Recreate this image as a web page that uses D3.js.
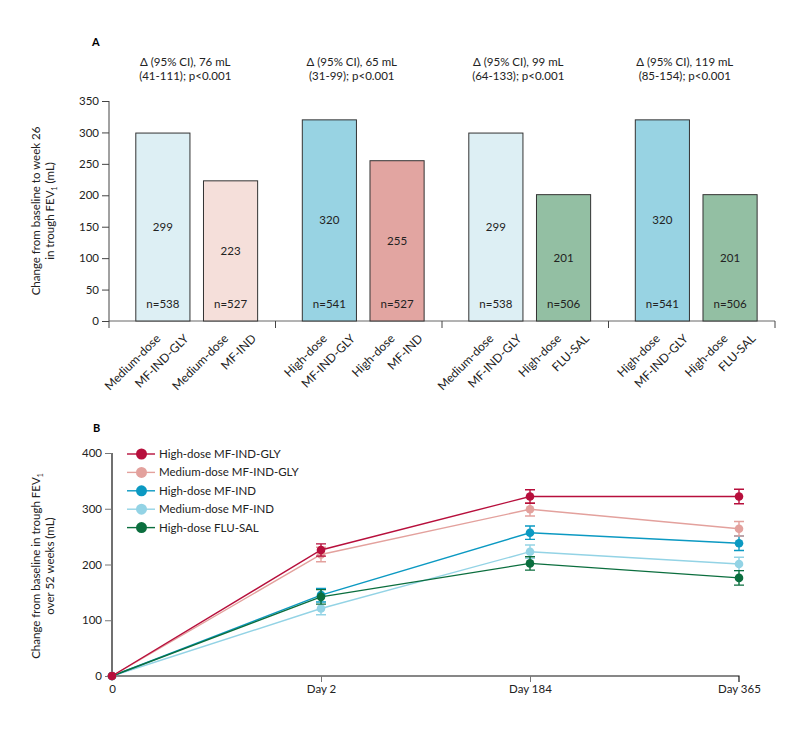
<!DOCTYPE html>
<html>
<head>
<meta charset="utf-8">
<script src="https://cdn.jsdelivr.net/npm/d3@7"></script>
<style>
  body { margin: 0; background: #fff; }
  svg { font-family: Lato, "Liberation Sans", sans-serif; }
</style>
</head>
<body>
<svg id="chart" width="800" height="729"></svg>
<script>
// ---- Panel A data ----
const groupNotes = [
  ['Δ (95% CI), 76 mL', '(41-111); p<0.001'],
  ['Δ (95% CI), 65 mL', '(31-99); p<0.001'],
  ['Δ (95% CI), 99 mL', '(64-133); p<0.001'],
  ['Δ (95% CI), 119 mL', '(85-154); p<0.001']
];
const barDose = ['Medium-dose', 'Medium-dose', 'High-dose', 'High-dose', 'Medium-dose', 'High-dose', 'High-dose', 'High-dose'];
const barDrug = ['MF-IND-GLY', 'MF-IND', 'MF-IND-GLY', 'MF-IND', 'MF-IND-GLY', 'FLU-SAL', 'MF-IND-GLY', 'FLU-SAL'];
const barValues = [299, 223, 320, 255, 299, 201, 320, 201];
const barN = [538, 527, 541, 527, 538, 506, 541, 506];
const yTicksA = [0, 50, 100, 150, 200, 250, 300, 350];

// ---- Panel B data ----
const timepoints = ['0', 'Day 2', 'Day 184', 'Day 365'];
const seriesNames = ['High-dose MF-IND-GLY', 'Medium-dose MF-IND-GLY', 'High-dose MF-IND', 'Medium-dose MF-IND', 'High-dose FLU-SAL'];
const hiGly = [0, 226, 322, 322];
const medGly = [0, 218, 299, 264];
const hiInd = [0, 145, 257, 238];
const medInd = [0, 121, 223, 201];
const fluSal = [0, 142, 202, 176];
const hiGlyErr = [0, 11, 12, 13];
const medGlyErr = [0, 13, 12, 13];
const hiIndErr = [0, 12, 12, 13];
const medIndErr = [0, 11, 12, 12];
const fluSalErr = [0, 13, 12, 13];
const yTicksB = [0, 100, 200, 300, 400];

const barColor = {
  'Medium-dose MF-IND-GLY': '#ddeff4',
  'Medium-dose MF-IND': '#f5dfda',
  'High-dose MF-IND-GLY': '#98d3e3',
  'High-dose MF-IND': '#e2a5a1',
  'High-dose FLU-SAL': '#93bfa3'
};
const lineColor = ['#b70f3c', '#e3a19d', '#0b99c2', '#93d3e5', '#0b6e3e'];
const fs = 11.5;

const svg = d3.select('#chart');

// ================= Panel A =================
const gA = svg.append('g');
const yA = d3.scaleLinear().domain([0, 350]).range([321, 101]);
const groupX = d3.scaleBand().domain(d3.range(4)).range([109, 775]);
const inner = d3.scaleBand().domain([0, 1]).range([0, groupX.bandwidth()])
  .paddingInner(0.2).paddingOuter(0.33).align(0.6);
const barX = i => groupX(Math.floor(i / 2)) + inner(i % 2);

gA.append('text').attr('x', 92).attr('y', 46).attr('font-weight', 'bold')
  .attr('font-size', 11).text('A');

// y axis
const axA = gA.append('g').attr('transform', 'translate(109,0)')
  .call(d3.axisLeft(yA).tickValues(yTicksA).tickSize(7).tickPadding(3));
axA.select('.domain').attr('stroke', '#444').attr('d', 'M0,101V321');
axA.selectAll('.tick line').attr('stroke', '#444');
axA.selectAll('.tick text').attr('font-size', fs).attr('fill', '#222').attr('font-family', 'Lato');

// x axis baseline with group separators
gA.append('line').attr('x1', 109).attr('x2', 775).attr('y1', 321).attr('y2', 321).attr('stroke', '#666');
gA.selectAll('.sep').data(d3.range(5)).join('line')
  .attr('x1', d => 109 + d * groupX.bandwidth()).attr('x2', d => 109 + d * groupX.bandwidth())
  .attr('y1', 321).attr('y2', 328).attr('stroke', '#444');

// bars
gA.selectAll('.bar').data(barValues).join('rect')
  .attr('x', (d, i) => barX(i)).attr('width', inner.bandwidth())
  .attr('y', d => yA(d)).attr('height', d => yA(0) - yA(d))
  .attr('fill', (d, i) => barColor[barDose[i] + ' ' + barDrug[i]])
  .attr('stroke', '#333').attr('stroke-width', 1);

gA.selectAll('.val').data(barValues).join('text')
  .attr('x', (d, i) => barX(i) + inner.bandwidth() / 2)
  .attr('y', d => (yA(d) + yA(0)) / 2 + 4)
  .attr('text-anchor', 'middle').attr('font-size', fs).attr('fill', '#222')
  .text(d => d);

gA.selectAll('.n').data(barN).join('text')
  .attr('x', (d, i) => barX(i) + inner.bandwidth() / 2)
  .attr('y', 308)
  .attr('text-anchor', 'middle').attr('font-size', fs).attr('fill', '#222')
  .text(d => 'n=' + d);

// rotated category labels
const labelG = gA.append('g');
barDose.forEach((d, i) => {
  const cx = barX(i) + inner.bandwidth() / 2;
  [[barDose[i], cx - 8], [barDrug[i], cx + 20]].forEach(([t, x]) => {
    labelG.append('text')
      .attr('transform', `translate(${x},333) rotate(-45)`)
      .attr('text-anchor', 'end').attr('dy', '0.75em')
      .attr('font-size', 12).attr('fill', '#222').text(t);
  });
});

// comparison notes
groupNotes.forEach((lines, k) => {
  const cx = groupX(k) + groupX.bandwidth() / 2 - 7;
  lines.forEach((t, j) => {
    gA.append('text').attr('x', cx).attr('y', 66 + j * 14)
      .attr('text-anchor', 'middle').attr('font-size', fs).attr('fill', '#222').text(t);
  });
});

// y title A
const tA = gA.append('text').attr('transform', 'translate(40,211) rotate(-90)')
  .attr('text-anchor', 'middle').attr('font-size', fs).attr('fill', '#222');
tA.append('tspan').attr('x', 0).attr('dy', 0).text('Change from baseline to week 26');
tA.append('tspan').attr('x', 0).attr('dy', 14).text('in trough FEV');
tA.append('tspan').attr('font-size', 7).attr('dy', 3).text('1');
tA.append('tspan').attr('dy', -3).text(' (mL)');

// ================= Panel B =================
const gB = svg.append('g');
const xB = d3.scalePoint().domain(timepoints).range([112, 739]);
const yB = d3.scaleLinear().domain([0, 400]).range([676, 453]);

gB.append('text').attr('x', 93).attr('y', 432).attr('font-weight', 'bold')
  .attr('font-size', 11).text('B');

const axBy = gB.append('g').attr('transform', 'translate(112,0)')
  .call(d3.axisLeft(yB).tickValues(yTicksB).tickSize(7).tickPadding(3));
axBy.select('.domain').attr('stroke', '#111').attr('stroke-width', 1.2).attr('d', 'M0,453V679');
axBy.selectAll('.tick line').attr('stroke', '#777');
axBy.selectAll('.tick text').attr('font-size', fs).attr('fill', '#222').attr('font-family', 'Lato');

const axBx = gB.append('g').attr('transform', 'translate(0,676)')
  .call(d3.axisBottom(xB).tickSize(6).tickPadding(3));
axBx.select('.domain').attr('stroke', '#111').attr('stroke-width', 1.2).attr('d', 'M112,0H739V6');
axBx.selectAll('.tick line').attr('stroke', '#777').attr('opacity', (d, i) => i === 0 ? 0 : 1);
axBx.selectAll('.tick text').attr('font-size', fs).attr('fill', '#222').attr('font-family', 'Lato');

const allSeries = [hiGly, medGly, hiInd, medInd, fluSal];
const allErr = [hiGlyErr, medGlyErr, hiIndErr, medIndErr, fluSalErr];
const drawOrder = [3, 2, 4, 1, 0];
const line = d3.line().x((d, i) => xB(timepoints[i])).y(d => yB(d));

drawOrder.forEach(s => {
  const col = lineColor[s];
  const g = gB.append('g');
  g.append('path').attr('d', line(allSeries[s])).attr('fill', 'none')
    .attr('stroke', col).attr('stroke-width', 1.4);
  allSeries[s].forEach((v, i) => {
    const x = xB(timepoints[i]);
    const e = allErr[s][i];
    if (e > 0) {
      g.append('path')
        .attr('d', `M${x - 5},${yB(v + e)}H${x + 5}M${x},${yB(v + e)}V${yB(v - e)}M${x - 5},${yB(v - e)}H${x + 5}`)
        .attr('stroke', col).attr('stroke-width', 1.4).attr('fill', 'none');
    }
    g.append('circle').attr('cx', x).attr('cy', yB(v)).attr('r', 4.3).attr('fill', col);
  });
});

// legend
const leg = gB.append('g');
seriesNames.forEach((name, i) => {
  const y = 454 + i * 18.4;
  leg.append('line').attr('x1', 127).attr('x2', 155).attr('y1', y).attr('y2', y)
    .attr('stroke', lineColor[i]).attr('stroke-width', 1.4);
  leg.append('circle').attr('cx', 141.5).attr('cy', y).attr('r', 5.5).attr('fill', lineColor[i]);
  leg.append('text').attr('x', 159).attr('y', y + 4).attr('font-size', fs).attr('fill', '#222').text(name);
});

// y title B
const tB = gB.append('text').attr('transform', 'translate(40,566) rotate(-90)')
  .attr('text-anchor', 'middle').attr('font-size', fs).attr('fill', '#222');
tB.append('tspan').attr('x', 0).attr('dy', 0).text('Change from baseline in trough FEV');
tB.append('tspan').attr('font-size', 7).attr('dy', 3).text('1');
tB.append('tspan').attr('x', 0).attr('dy', 11).text('over 52 weeks (mL)');
</script>
</body>
</html>
